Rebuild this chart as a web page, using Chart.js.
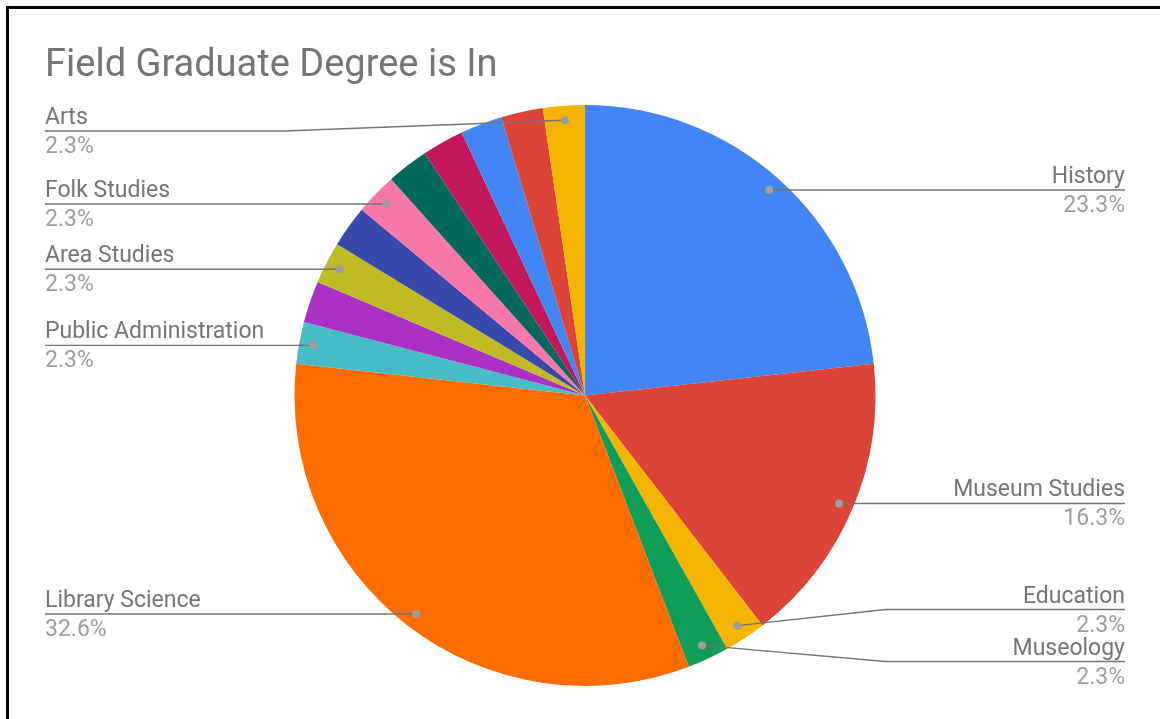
<!DOCTYPE html>
<html>
<head>
<meta charset="utf-8">
<script src="https://cdn.jsdelivr.net/npm/chart.js@4.4.0/dist/chart.umd.min.js"></script>
<style>
  body { margin: 0; background: #fff; }
  #wrap { position: relative; width: 1160px; height: 719px; }
  #frame {
    position: absolute; left: 6px; top: 6px; right: 0; bottom: 0;
    border-left: 3px solid #000; border-top: 3px solid #000;
    pointer-events: none;
  }
</style>
</head>
<body>
<div id="wrap">
  <canvas id="chart" width="1160" height="719"></canvas>
  <div id="frame"></div>
</div>
<script>
// responses per field (43 in total)
var fields = ['History', 'Museum Studies', 'Education', 'Museology', 'Library Science',
  'Public Administration', 'Other 1', 'Area Studies', 'Other 2', 'Folk Studies',
  'Other 3', 'Other 4', 'Other 5', 'Other 6', 'Arts'];
var counts = [10, 7, 1, 1, 14, 1, 1, 1, 1, 1, 1, 1, 1, 1, 1];
var colors = ['#4285F4', '#DB4437', '#F4B400', '#0F9D58', '#FF6D00',
  '#46BDC6', '#AB30C4', '#C0BB22', '#3949AB', '#F878A9',
  '#00695C', '#C2185B', '#4285F4', '#DB4437', '#F4B400'];
// slices that get a label in the original
var labeledFields = ['History', 'Museum Studies', 'Education', 'Museology', 'Library Science',
  'Public Administration', 'Area Studies', 'Folk Studies', 'Arts'];

var title = 'Field Graduate Degree is In';

function layoutSide(items, minY, gap) {
  items.sort(function (a, b) { return a.dotY - b.dotY; });
  var clusters = items.map(function (it) { return { items: [it], center: it.dotY }; });
  var merged = true;
  function place(c) {
    var n = c.items.length;
    var top = Math.max(minY, c.center - (n - 1) * gap / 2);
    c.items.forEach(function (it, k) { it.lineY = top + k * gap; });
  }
  while (merged) {
    merged = false;
    clusters.forEach(place);
    for (var i = 0; i < clusters.length - 1; i++) {
      var a = clusters[i], b = clusters[i + 1];
      if (a.items[a.items.length - 1].lineY + gap > b.items[0].lineY) {
        var all = a.items.concat(b.items);
        var mean = all.reduce(function (s, it) { return s + it.dotY; }, 0) / all.length;
        clusters.splice(i, 2, { items: all, center: mean });
        merged = true;
        break;
      }
    }
  }
  clusters.forEach(place);
}

var pieLabels = {
  id: 'pieLabels',
  afterDatasetsDraw: function (chart) {
    var ctx = chart.ctx;
    var meta = chart.getDatasetMeta(0);
    var total = counts.reduce(function (s, v) { return s + v; }, 0);
    var left = [], right = [];
    var cx = 0, cy = 0, r = 0;
    fields.forEach(function (f, i) {
      if (labeledFields.indexOf(f) < 0) return;
      var p = meta.data[i].getProps(['x', 'y', 'startAngle', 'endAngle', 'outerRadius'], true);
      cx = p.x; cy = p.y; r = p.outerRadius;
      var mid = (p.startAngle + p.endAngle) / 2;
      var it = {
        name: f,
        pct: (counts[i] / total * 100).toFixed(1) + '%',
        dotX: p.x + Math.cos(mid) * r * 0.95,
        dotY: p.y + Math.sin(mid) * r * 0.95
      };
      (Math.cos(mid) >= 0 ? right : left).push(it);
    });
    var minY = chart.chartArea.top + 26;
    layoutSide(left, minY, 52);
    layoutSide(right, minY, 52);

    var textLeft = 45, textRight = chart.width - 35;
    ctx.save();
    function draw(it, isRight) {
      var edge = isRight ? textRight : textLeft;
      ctx.strokeStyle = '#757575';
      ctx.lineWidth = 1.4;
      ctx.beginPath();
      ctx.moveTo(it.dotX, it.dotY);
      if (Math.abs(it.lineY - it.dotY) > 0.5) {
        ctx.lineTo(cx + (isRight ? 1 : -1) * (r + 10), it.lineY);
      }
      ctx.lineTo(edge, it.lineY);
      ctx.stroke();
      ctx.fillStyle = '#9e9e9e';
      ctx.beginPath();
      ctx.arc(it.dotX, it.dotY, 4, 0, Math.PI * 2);
      ctx.fill();
      ctx.font = '23px Roboto';
      ctx.textAlign = isRight ? 'right' : 'left';
      ctx.textBaseline = 'alphabetic';
      ctx.fillStyle = '#757575';
      ctx.fillText(it.name, edge, it.lineY - 7);
      ctx.fillStyle = '#9e9e9e';
      ctx.fillText(it.pct, edge, it.lineY + 22);
    }
    left.forEach(function (it) { draw(it, false); });
    right.forEach(function (it) { draw(it, true); });

    ctx.font = '38px Roboto';
    ctx.textAlign = 'left';
    ctx.fillStyle = '#757575';
    ctx.fillText(title, 45, 76);
    ctx.restore();
  }
};

new Chart(document.getElementById('chart').getContext('2d'), {
  type: 'pie',
  data: {
    labels: fields,
    datasets: [{
      data: counts,
      backgroundColor: colors,
      borderWidth: 0
    }]
  },
  options: {
    responsive: false,
    animation: false,
    layout: { padding: { top: 105, bottom: 33, left: 10, right: 0 } },
    plugins: {
      legend: { display: false },
      tooltip: { enabled: false }
    }
  },
  plugins: [pieLabels]
});
</script>
</body>
</html>
